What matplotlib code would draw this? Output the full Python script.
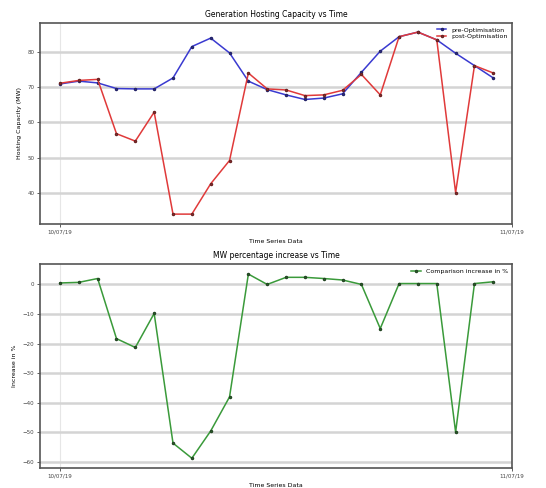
import matplotlib
matplotlib.use("Agg")
import matplotlib.pyplot as plt
import matplotlib.dates as mdates
import numpy as np
import pandas as pd

# hourly samples over one day
times = pd.date_range("2019-07-10 00:00", periods=24, freq="h")

pre_opt = [70.9, 71.7, 71.2, 69.6, 69.5, 69.5, 72.6, 81.5, 83.9, 79.7, 71.7, 69.3,
           67.8, 66.5, 66.9, 68.1, 74.2, 80.2, 84.3, 85.6, 83.4, 79.6, 76.1, 72.6]
post_opt = [71.1, 71.9, 72.2, 56.8, 54.7, 62.9, 34.0, 34.0, 42.6, 49.2, 74.0, 69.5,
            69.2, 67.6, 67.8, 69.1, 73.6, 67.8, 84.3, 85.6, 83.4, 40.1, 76.1, 74.0]
pct_increase = [0.5, 0.7, 2.0, -18.3, -21.3, -9.8, -53.6, -58.7, -49.5, -38.0, 3.5, 0.0,
                2.4, 2.4, 2.0, 1.5, 0.0, -14.9, 0.3, 0.3, 0.3, -49.9, 0.3, 0.9]

date_ticks = [pd.Timestamp("2019-07-10"), pd.Timestamp("2019-07-11")]
x_start = pd.Timestamp("2019-07-09 22:56")
x_end = pd.Timestamp("2019-07-11 00:00")

fig = plt.figure(figsize=(5.46, 4.88), dpi=100)
ax1 = fig.add_axes([0.073, 0.541, 0.865, 0.412])
ax2 = fig.add_axes([0.073, 0.041, 0.865, 0.418])


def style_axes(ax):
    ax.set_xlim(x_start, x_end)
    ax.set_xticks(date_ticks)
    ax.xaxis.set_major_formatter(mdates.DateFormatter("%d/%m/%y"))
    ax.grid(axis="y", color="#d4d4d4", linewidth=1.8)
    ax.grid(axis="x", color="#e6e6e6", linewidth=0.8)
    ax.set_axisbelow(True)
    for s in ax.spines.values():
        s.set_color("#555555")
        s.set_linewidth(1.2)
    ax.tick_params(labelsize=4, length=2, width=0.6, colors="#444444", pad=2)


ax1.plot(times, pre_opt, color="#3a3ad0", marker=".", markersize=3, linewidth=1.1,
         markeredgecolor="#222266", label="pre-Optimisation")
ax1.plot(times, post_opt, color="#e03a3a", marker=".", markersize=3, linewidth=1.1,
         markeredgecolor="#662222", label="post-Optimisation")
style_axes(ax1)
ax1.set_ylim(31.2, 88.2)
ax1.set_yticks([40, 50, 60, 70, 80])
ax1.set_title("Generation Hosting Capacity vs Time", fontsize=5.5, pad=4)
ax1.set_xlabel("Time Series Data", fontsize=4.5, labelpad=3)
ax1.set_ylabel("Hosting Capacity (MW)", fontsize=4.5, labelpad=4)
ax1.legend(loc="upper right", fontsize=4.5, frameon=False, handlelength=1.5,
           borderaxespad=0.3, labelspacing=0.2)

ax2.plot(times, pct_increase, color="#3a9a3a", marker=".", markersize=3, linewidth=1.1,
         markeredgecolor="#224422", label="Comparison increase in %")
style_axes(ax2)
ax2.set_ylim(-62, 6.9)
ax2.set_yticks([0, -10, -20, -30, -40, -50, -60])
ax2.set_title("MW percentage increase vs Time", fontsize=5.5, pad=4)
ax2.set_xlabel("Time Series Data", fontsize=4.5, labelpad=3)
ax2.set_ylabel("Increase in %", fontsize=4.5, labelpad=4)
ax2.legend(loc="upper right", fontsize=4.5, frameon=False, handlelength=1.5,
           borderaxespad=0.3)

fig.savefig("out.png", dpi=100)
